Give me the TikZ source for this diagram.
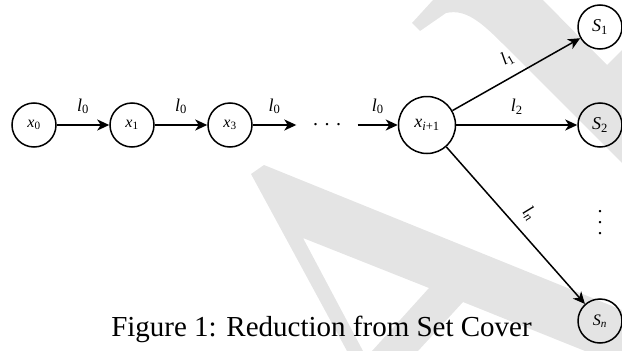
\documentclass[tikz,border=0pt]{standalone}
\usepackage{fontspec}
\setmainfont{Liberation Serif}
\usetikzlibrary{arrows.meta}
\definecolor{wmgray}{RGB}{228,228,228}
% italic variable with an upright/italic subscript
\newcommand\mvar[2]{\textit{#1}\textsubscript{#2}}
\begin{document}
\begin{tikzpicture}[x=1pt,y=-1pt,
  state/.style={circle, draw, line width=1.5pt, minimum size=44pt, inner sep=0pt,
    font=\fontsize{16}{18}\selectfont},
  setstate/.style={state, font=\fontsize{18}{20}\selectfont},
  bigstate/.style={state, minimum size=57pt, font=\fontsize{18}{20}\selectfont},
  tip/.style={-{Stealth[length=12pt,width=11pt,inset=3.5pt]}},
  chain/.style={tip, line width=1.8pt},
  fan/.style={tip, line width=1.5pt},
  lab/.style={font=\fontsize{18}{20}\selectfont, inner sep=0pt, above=10pt},
]
\useasboundingbox (0,0) rectangle (622,351);

% light watermark letters in the background
\fill[wmgray, even odd rule]
  (251,174) -- (264,165) -- (622,310) -- (622,351) -- (347,351) -- cycle
  (303,238) -- (429,288) -- (372,351) -- (363,351) -- cycle
  (463,302) -- (585,351) -- (418,351) -- cycle;
\fill[wmgray]
  (412,23) -- (433,0) -- (543,0) -- (607,65) -- (622,50) -- (622,163)
  -- (510,51) .. controls (485,26) and (468,8) .. (446,13) -- (420,31) -- cycle;

% states
\node[state] (x0) at (34,125) {\mvar{x}{0}};
\node[state] (x1) at (132,125) {\mvar{x}{1}};
\node[state] (x3) at (230,125) {\mvar{x}{3}};
\node[minimum width=61pt, inner sep=0pt, font=\fontsize{20}{22}\selectfont]
  (dots) at (327,125) {.\hspace{6.5pt}.\hspace{6.5pt}.};
\node[bigstate] (xi) at (427,125) {\mvar{x}{\textit{i}+1}};
\node[setstate] (s1) at (600,27) {\mvar{S}{1}};
\node[setstate] (s2) at (600,125) {\mvar{S}{2}};
\node[state] (sn) at (600,321) {\mvar{S}{\textit{n}}};
\node[inner sep=0pt, font=\fontsize{20}{22}\selectfont] (vd) at (600,223)
  {\vbox{\baselineskip=11pt \lineskiplimit=0pt \hbox{.}\hbox{.}\hbox{.}}};

% transitions
\draw[chain] (x0) -- node[lab] {\mvar{l}{0}} (x1);
\draw[chain] (x1) -- node[lab] {\mvar{l}{0}} (x3);
\draw[chain] (x3) -- node[lab] {\mvar{l}{0}} (dots.west);
\draw[chain] (dots.east) -- node[lab] {\mvar{l}{0}} (xi);
\draw[fan] (xi) -- node[lab, sloped] {\mvar{l}{1}} (s1);
\draw[chain] (xi) -- node[lab] {\mvar{l}{2}} (s2);
\draw[fan] (xi) -- node[lab, sloped] {\mvar{l}{\textit{n}}} (sn);

% caption
\node[font=\fontsize{29}{34}\selectfont, anchor=base, inner sep=0pt] (cap)
  at (321.5,336) {Figure 1: Reduction from Set Cover};
\end{tikzpicture}
\end{document}
